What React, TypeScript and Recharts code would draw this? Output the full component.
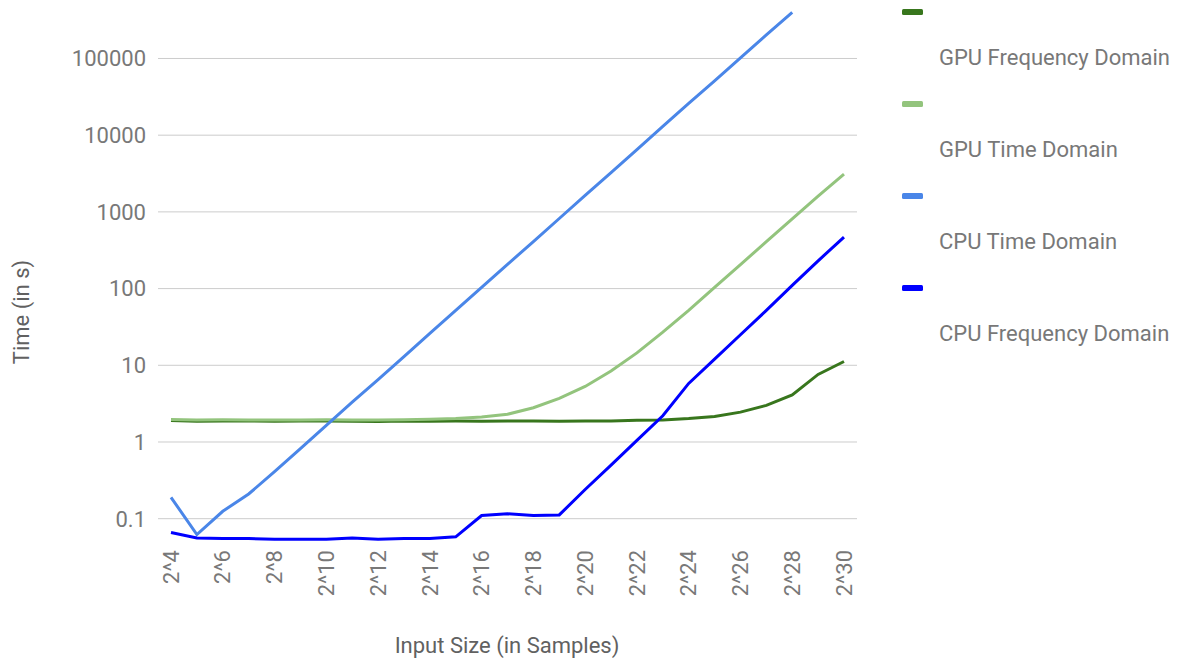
import React from "react";
import { Line, LineChart, ReferenceLine, XAxis, YAxis } from "recharts";

const sizes = [
  "2^4", "2^5", "2^6", "2^7", "2^8", "2^9", "2^10", "2^11", "2^12",
  "2^13", "2^14", "2^15", "2^16", "2^17", "2^18", "2^19", "2^20", "2^21",
  "2^22", "2^23", "2^24", "2^25", "2^26", "2^27", "2^28", "2^29", "2^30",
];

const gpuFrequency = [
  1.9, 1.86, 1.88, 1.88, 1.86, 1.88, 1.88, 1.87, 1.85, 1.88, 1.86, 1.88, 1.87,
  1.88, 1.88, 1.86, 1.88, 1.88, 1.92, 1.94, 2.02, 2.15, 2.45, 3.0, 4.1, 7.6, 11.2,
];

const gpuTime = [
  1.97, 1.94, 1.95, 1.94, 1.93, 1.94, 1.95, 1.94, 1.93, 1.95, 1.98, 2.03, 2.12,
  2.3, 2.8, 3.7, 5.3, 8.4, 14.5, 27, 52, 104, 205, 410, 810, 1600, 3100,
];

const cpuTime = [
  0.19, 0.062, 0.125, 0.21, 0.41, 0.82, 1.65, 3.3, 6.5, 13, 26, 52, 104, 207,
  410, 820, 1640, 3250, 6500, 13000, 26000, 51000, 102000, 203000, 400000,
  null, null,
];

const cpuFrequency = [
  0.066, 0.056, 0.055, 0.055, 0.054, 0.054, 0.054, 0.056, 0.054, 0.055, 0.055,
  0.058, 0.11, 0.116, 0.11, 0.112, 0.24, 0.5, 1.05, 2.2, 5.8, 12, 25, 52, 110,
  230, 470,
];

const yTicks = [0.1, 1, 10, 100, 1000, 10000, 100000];

const series = [
  { key: "gpuFrequency", name: "GPU Frequency Domain", color: "#38761d", values: gpuFrequency },
  { key: "gpuTime", name: "GPU Time Domain", color: "#93c47d", values: gpuTime },
  { key: "cpuTime", name: "CPU Time Domain", color: "#4a86e8", values: cpuTime },
  { key: "cpuFrequency", name: "CPU Frequency Domain", color: "#0000ff", values: cpuFrequency },
];

const data = sizes.map((size, i) => {
  const row: Record<string, string | number | null> = { size };
  series.forEach((s) => {
    row[s.key] = s.values[i];
  });
  return row;
});

const FONT = "Roboto, sans-serif";
const TEXT = "#787878";
const TITLE = "#616161";

function XTick({ x, y, payload }: any) {
  return (
    <text
      x={x}
      y={y + 3}
      transform={`rotate(-90 ${x} ${y + 3})`}
      textAnchor="end"
      dy="0.35em"
      fill={TEXT}
      fontSize={22}
      fontFamily={FONT}
    >
      {payload.value}
    </text>
  );
}

const textBase: React.CSSProperties = {
  position: "absolute",
  fontSize: 22,
  lineHeight: "22px",
  whiteSpace: "nowrap",
  fontFamily: FONT,
};

export default function App() {
  return (
    <div
      style={{
        position: "absolute",
        left: 0,
        top: 0,
        width: 1187,
        height: 664,
        background: "#fff",
        fontFamily: FONT,
      }}
    >
      <LineChart
        width={1187}
        height={664}
        data={data}
        margin={{ top: 10, right: 330, bottom: 0, left: 0 }}
      >
        <XAxis
          dataKey="size"
          interval={1}
          height={119}
          padding={{ left: 13, right: 13 }}
          axisLine={false}
          tickLine={false}
          tickSize={0}
          tick={<XTick />}
        />
        <YAxis
          scale="log"
          domain={[0.0454, 428600]}
          allowDataOverflow
          ticks={yTicks}
          width={158}
          axisLine={false}
          tickLine={false}
          tickSize={0}
          tickMargin={12}
          tick={{ fill: TEXT, fontSize: 22, fontFamily: FONT }}
          tickFormatter={(v) => String(v)}
        />
        {yTicks.map((t) => (
          <ReferenceLine key={t} y={t} stroke="#cccccc" strokeWidth={1} />
        ))}
        {series.map((s) => (
          <Line
            key={s.key}
            type="linear"
            dataKey={s.key}
            name={s.name}
            stroke={s.color}
            strokeWidth={3}
            dot={false}
            isAnimationActive={false}
          />
        ))}
      </LineChart>

      {/* axis titles */}
      <div
        style={{
          ...textBase,
          left: 22,
          top: 312,
          color: TITLE,
          transform: "translate(-50%, -50%) rotate(-90deg)",
        }}
      >
        Time (in s)
      </div>
      <div
        style={{
          ...textBase,
          left: 507,
          top: 646,
          color: TITLE,
          transform: "translate(-50%, -50%)",
        }}
      >
        Input Size (in Samples)
      </div>

      {/* legend */}
      {series.map((s, i) => (
        <React.Fragment key={s.key}>
          <div
            style={{
              position: "absolute",
              left: 902,
              top: 9 + i * 92,
              width: 21,
              height: 6,
              borderRadius: 1.5,
              background: s.color,
            }}
          />
          <div style={{ ...textBase, left: 939, top: 47 + i * 92, color: TEXT }}>
            {s.name}
          </div>
        </React.Fragment>
      ))}
    </div>
  );
}
